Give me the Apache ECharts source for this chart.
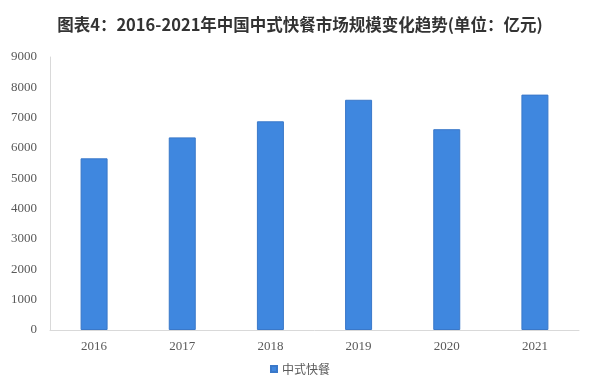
<!DOCTYPE html>
<html>
<head>
<meta charset="utf-8">
<script src="https://cdn.jsdelivr.net/npm/echarts@6/dist/echarts.min.js"></script>
<style>
  html, body { margin: 0; padding: 0; background: #fff; }
  #chart { width: 600px; height: 383px; }
</style>
</head>
<body>
<div id="chart"></div>
<script>
// 2016-2021 Chinese fast-food market size (100 million yuan)
const years = ['2016', '2017', '2018', '2019', '2020', '2021'];
const marketSize = [5660, 6350, 6880, 7590, 6620, 7760];
const seriesName = '中式快餐';
const titleText = '图表4：2016-2021年中国中式快餐市场规模变化趋势(单位：亿元)';

const chart = echarts.init(document.getElementById('chart'));
chart.setOption({
  backgroundColor: '#ffffff',
  animation: false,
  title: {
    text: titleText,
    left: 'center',
    top: 11,
    textStyle: {
      fontFamily: '"Noto Sans CJK SC", sans-serif',
      fontSize: 16.5,
      fontWeight: 'bold',
      color: '#333333'
    }
  },
  legend: {
    bottom: 3,
    left: 'center',
    itemWidth: 6,
    itemHeight: 6,
    itemGap: 4,
    icon: 'rect',
    textStyle: {
      fontFamily: '"Noto Sans CJK SC", sans-serif',
      fontSize: 12,
      color: '#595959'
    },
    data: [seriesName]
  },
  grid: { left: 50, right: 21, top: 57, bottom: 53 },
  xAxis: {
    type: 'category',
    data: years,
    axisLine: { lineStyle: { color: '#d9d9d9' } },
    axisTick: { show: false },
    axisLabel: {
      fontFamily: '"Liberation Serif", serif',
      fontSize: 13,
      color: '#595959',
      margin: 10
    }
  },
  yAxis: {
    type: 'value',
    min: 0,
    max: 9000,
    interval: 1000,
    axisLine: { show: true, lineStyle: { color: '#d9d9d9' } },
    axisTick: { show: false },
    splitLine: { show: false },
    axisLabel: {
      fontFamily: '"Liberation Serif", serif',
      fontSize: 13,
      color: '#595959',
      margin: 13,
      formatter: v => String(v)
    }
  },
  series: [{
    name: seriesName,
    type: 'bar',
    data: marketSize,
    barWidth: 27,
    itemStyle: {
      color: '#3F87DF',
      borderColor: '#3A78C9',
      borderWidth: 1
    }
  }]
});
</script>
</body>
</html>
